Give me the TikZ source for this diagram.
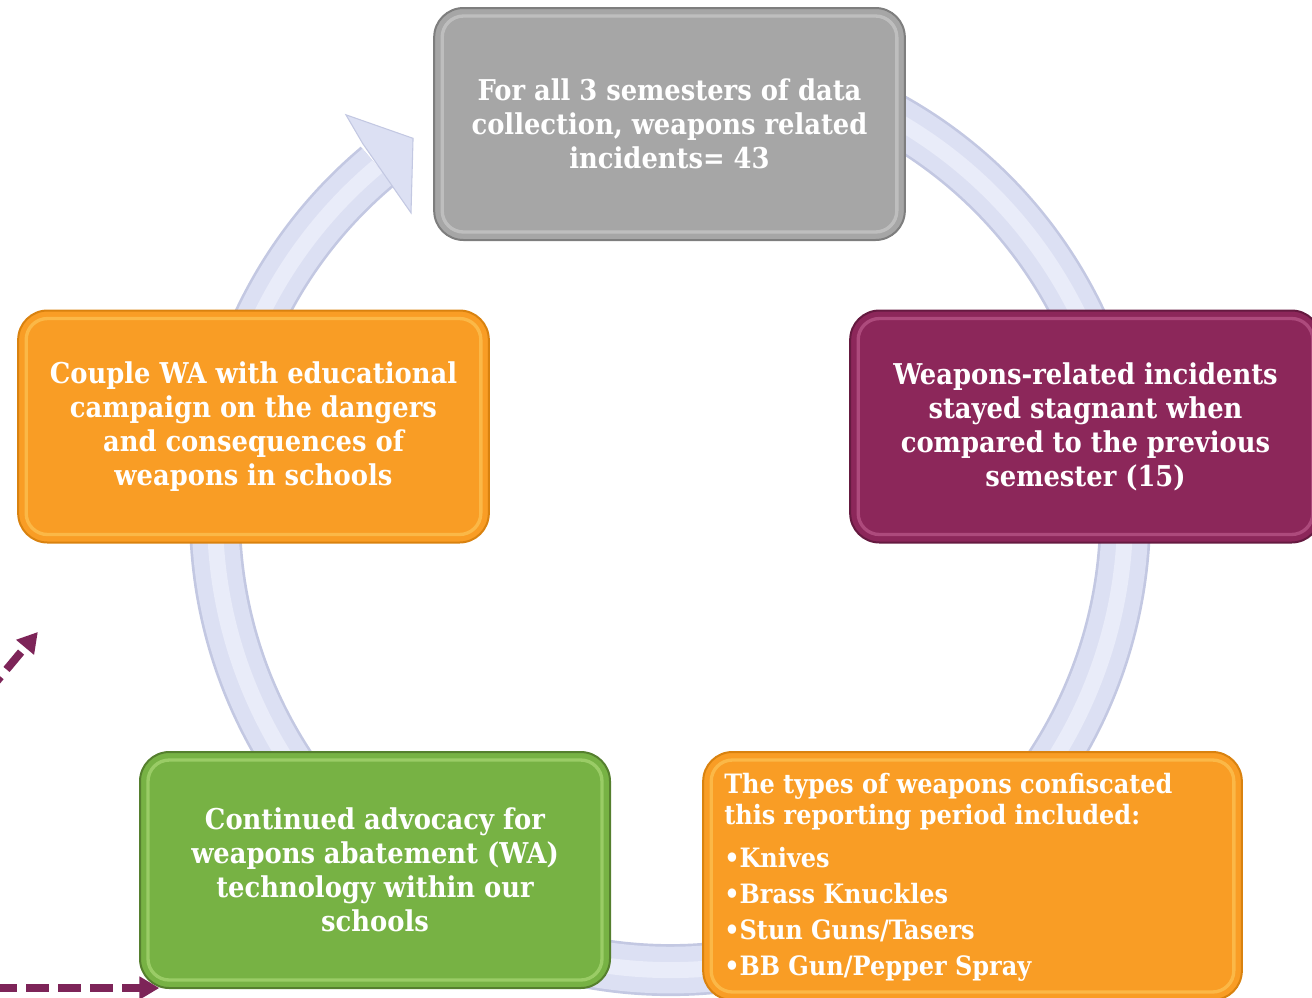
\documentclass[tikz,border=0pt]{standalone}
\usepackage{fontspec}
\setmainfont{DejaVu Serif Condensed}
\usetikzlibrary{arrows.meta,calc}
\definecolor{gyF}{HTML}{A6A6A6}\definecolor{gyD}{HTML}{7E7E7E}\definecolor{gyH}{HTML}{E4E4E4}
\definecolor{puF}{HTML}{8C275A}\definecolor{puD}{HTML}{651A40}\definecolor{puH}{HTML}{E07FB0}
\definecolor{orF}{HTML}{F99D25}\definecolor{orD}{HTML}{D9820F}\definecolor{orH}{HTML}{FFE27A}
\definecolor{grF}{HTML}{77B244}\definecolor{grD}{HTML}{557F2E}\definecolor{grH}{HTML}{CFF59A}
\definecolor{ringF}{HTML}{DCE0F3}\definecolor{ringD}{HTML}{C3C8E2}\definecolor{ringH}{HTML}{E9ECF9}
\definecolor{dashC}{HTML}{7D2458}
\newcommand\boxfont{\bfseries\fontsize{21.5}{25.5}\selectfont}
\begin{document}
\begin{tikzpicture}[x=0.75pt,y=-0.75pt,
  box/.style={draw=#1D, line width=1.5pt, fill=#1F, rounded corners=22pt, inner sep=0pt,
    text=white, align=center, font=\boxfont, minimum width=353pt, minimum height=174pt},
  hl/.style={draw=#1H, line width=2.5pt, opacity=.4, rounded corners=16pt},
  dasharrow/.style={draw=dashC, line width=6pt, dash pattern=on 17pt off 7pt,
    -{Triangle[length=15pt,width=16.5pt]}, shorten >=-1pt}
]
\useasboundingbox (0,0) rectangle (1312,997);
\clip (0,0) rectangle (1312,997);
\coordinate (c) at (670,515);
% ring
\draw[ringD, line width=39pt] ([shift={(-118:455)}]c) arc[start angle=-118, end angle=230, radius=455];
\draw[ringF, line width=35pt] ([shift={(-118:455)}]c) arc[start angle=-118, end angle=230, radius=455];
\draw[ringH, line width=12pt] ([shift={(-118:455)}]c) arc[start angle=-118, end angle=230, radius=455];
\filldraw[fill=ringF, draw=ringD, line width=0.8pt, line join=miter]
  ([shift={(-129:515)}]c) -- ([shift={(-124.3:456)}]c) -- ([shift={(-130.6:398)}]c)
  -- ([shift={(-130.2:428)}]c) -- ([shift={(-129.6:482)}]c) -- cycle;
% boxes
\node[box=gy] (top) at (669.5,124) {For all 3 semesters of data\\collection, weapons related\\incidents= 43};
\node[box=pu] (right) at (1085.5,426.5) {Weapons-related incidents\\stayed stagnant when\\compared to the previous\\semester (15)};
\node[box=or] (left) at (253.5,426.5) {Couple WA with educational\\campaign on the dangers\\and consequences of\\weapons in schools};
\node[box=gr, minimum width=352.5pt, minimum height=177pt] (green) at (375,870) {Continued advocacy for\\weapons abatement (WA)\\technology within our\\schools};
\node[box=or, minimum width=404pt, minimum height=186pt] (types) at (972.5,876) {};
\foreach \n/\c in {top/gy,right/pu,left/or,green/gr,types/or}{
  \draw[hl=\c] ([shift={(9,9)}]\n.north west) rectangle ([shift={(-9,-9)}]\n.south east);
}
\node[anchor=north west, inner sep=0pt, text=white, align=left, font=\bfseries\fontsize{20}{23.25}\selectfont] (typestext) at (724,773)
 {The types of weapons confiscated\\this reporting period included:\\[9pt]
  •Knives\\[3.75pt]•Brass Knuckles\\[3.75pt]•Stun Guns/Tasers\\[3.75pt]•BB Gun/Pepper Spray};
% dashed arrows
\coordinate (d1s) at (-14,694);
\coordinate (d1e) at (37,633);
\coordinate (d2s) at (-6,988);
\coordinate (d2e) at (158,988);
\draw[dasharrow] (d1s) -- (d1e);
\draw[dasharrow] (d2s) -- (d2e);
\end{tikzpicture}
\end{document}
